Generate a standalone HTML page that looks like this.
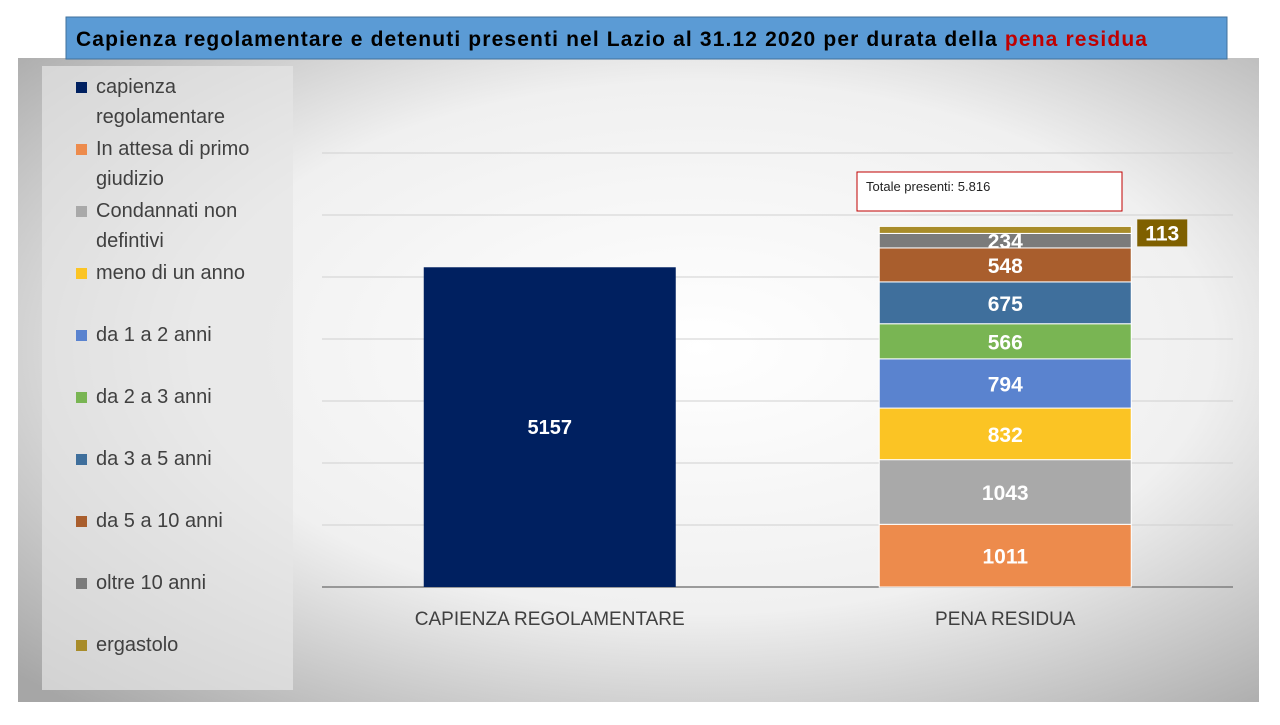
<!DOCTYPE html>
<html><head><meta charset="utf-8"><style>
body{margin:0;width:1280px;height:720px;background:#fff;overflow:hidden;font-family:"Liberation Sans",sans-serif}
</style></head><body>
<svg width="1280" height="720" xmlns="http://www.w3.org/2000/svg">
<defs>
<radialGradient id="bg" cx="0.55" cy="0.45" r="0.75">
<stop offset="0" stop-color="#ffffff"/><stop offset="0.55" stop-color="#f0f0f0"/><stop offset="1" stop-color="#a6a6a6"/>
</radialGradient>
</defs>
<rect x="18" y="58" width="1241" height="644" fill="url(#bg)"/>
<rect x="42" y="66" width="251" height="624" fill="#e6e6e6" opacity="0.7"/>
<rect x="66" y="17" width="1161" height="42" fill="#5b9bd5" stroke="#41719c" stroke-width="1"/>
<text x="76" y="46" font-size="21" font-weight="bold" fill="#000" textLength="1071" lengthAdjust="spacing">Capienza regolamentare e detenuti presenti nel Lazio al 31.12 2020 per durata della <tspan fill="#c00000">pena residua</tspan></text>
<g id="grid"></g><g id="bars"></g><g id="legend"></g>
<rect x="857" y="172" width="265" height="39" fill="#fff" stroke="#c00000" stroke-width="1"/>
<text x="866" y="191" font-size="13" fill="#222">Totale presenti: 5.816</text>
</svg>
<script>
const categories=["CAPIENZA REGOLAMENTARE","PENA RESIDUA"];
const capienza=[5157];
const stackLabels=["In attesa di primo giudizio","Condannati non defintivi","meno di un anno","da 1 a 2 anni","da 2 a 3 anni","da 3 a 5 anni","da 5 a 10 anni","oltre 10 anni","ergastolo"];
const stackValues=[1011,1043,832,794,566,675,548,234,113];
const yTicks=[0,1000,2000,3000,4000,5000,6000,7000];
const colors=["#ed8b4c","#a9a9a9","#fbc424","#5a83cf","#79b553","#3f6f9c","#a95e2d","#7b7b7b","#a88c2a"];
const NS="http://www.w3.org/2000/svg";
const base=587,ppu=0.062,x0=322,x1=1233;
function y(v){return base-v*ppu;}
function xc(i){return x0+(x1-x0)*(i+0.5)/categories.length;}
const bw=252;
function mk(tag,attrs,parent,txt){const e=document.createElementNS(NS,tag);for(const k in attrs)e.setAttribute(k,attrs[k]);if(txt!==undefined)e.textContent=txt;parent.appendChild(e);return e;}
const grid=document.getElementById('grid'),bars=document.getElementById('bars'),leg=document.getElementById('legend');
yTicks.forEach(t=>{const l=mk('line',{x1:x0,x2:x1,y1:y(t),y2:y(t),stroke:t===0?'#7f7f7f':'#d0d0d0','stroke-width':t===0?1.5:1},grid);

});
categories.forEach((c,i)=>{const t=mk('text',{x:xc(i),y:625,'text-anchor':'middle','font-size':19,fill:'#404040'},grid,c);

});
{const r=mk('rect',{x:xc(0)-bw/2,y:y(capienza[0]),width:bw,height:capienza[0]*ppu,fill:'#002060'},bars);


const t=mk('text',{x:xc(0),y:y(capienza[0]/2)+7,'text-anchor':'middle','font-size':20,'font-weight':'bold',fill:'#fff'},bars,capienza[0]);

}
let cum=0;
stackValues.forEach((v,i)=>{const top=y(cum+v),h=v*ppu;
const r=mk('rect',{x:xc(1)-bw/2,y:top,width:bw,height:h,fill:colors[i],stroke:'#fff','stroke-width':1},bars);


let t;
if(i===stackValues.length-1){
const b=mk('rect',{x:xc(1)+bw/2+6,y:top-7,width:50,height:27,fill:'#7f6000'},bars);


t=mk('text',{x:xc(1)+bw/2+31,y:top+14,'text-anchor':'middle','font-size':21,'font-weight':'bold',fill:'#fff'},bars,v);
}else{
t=mk('text',{x:xc(1),y:top+h/2+8,'text-anchor':'middle','font-size':21,'font-weight':'bold',fill:'#fff'},bars,v);}


cum+=v;});
const legItems=[["capienza","regolamentare"],["In attesa di primo","giudizio"],["Condannati non","defintivi"],["meno di un anno"],["da 1 a 2 anni"],["da 2 a 3 anni"],["da 3 a 5 anni"],["da 5 a 10 anni"],["oltre 10 anni"],["ergastolo"]];
const legColors=["#002060"].concat(colors);
legItems.forEach((it,i)=>{const ty=93+i*62;
const g=mk('g',{},leg);


mk('rect',{x:76,y:ty-11,width:11,height:11,fill:legColors[i]},g);
it.forEach((s,j)=>mk('text',{x:96,y:ty+j*30,'font-size':20,fill:'#404040'},g,s));});
</script>
</body></html>
